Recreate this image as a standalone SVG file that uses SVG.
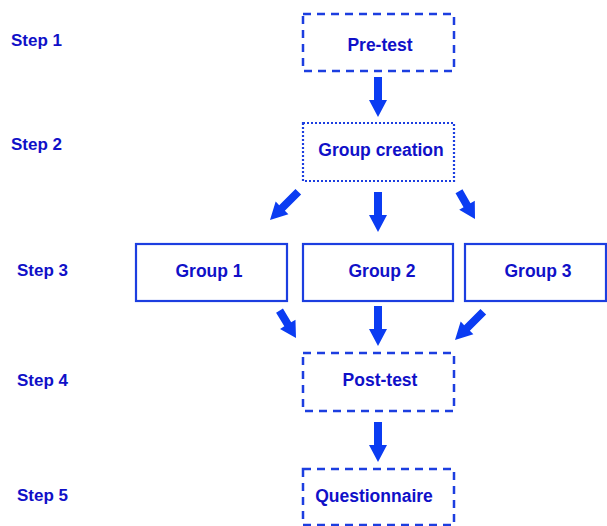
<svg xmlns="http://www.w3.org/2000/svg" xmlns:xlink="http://www.w3.org/1999/xlink" width="607" height="526" viewBox="0 0 607 526">
  <style>
    text { font-family: "Liberation Sans", Arial, sans-serif; font-weight: bold; fill: #1010c8; }
    .step { font-size: 17px; }
    .label { font-size: 17.5px; text-anchor: middle; }
    .box { fill: none; stroke: #1c3ee0; stroke-width: 2.2; }
    .dashed { stroke-dasharray: 8 6; stroke-width: 2.5; }
    .dotted { stroke-dasharray: 2 2; stroke-width: 2.2; }
    .arrow { fill: #0b3cf2; }
  </style>
  <defs>
    <!-- block arrows pointing down, tip at origin -->
    <path id="arr40" d="M -4 -40 L 4 -40 L 4 -17 L 9 -17 L 0 0 L -9 -17 L -4 -17 Z"/>
    <path id="arr32" d="M -4 -32 L 4 -32 L 4 -16 L 9 -16 L 0 0 L -9 -16 L -4 -16 Z"/>
  </defs>
  <rect width="607" height="526" fill="#ffffff"/>

  <!-- step labels -->
  <g id="steps">
    <text class="step" x="11" y="46">Step 1</text>
    <text class="step" x="11" y="150">Step 2</text>
    <text class="step" x="17" y="276">Step 3</text>
    <text class="step" x="17" y="386">Step 4</text>
    <text class="step" x="17" y="501">Step 5</text>
  </g>

  <g id="pretest">
    <rect class="box dashed" x="303" y="14" width="151" height="57"/>
    <text class="label" x="380" y="51">Pre-test</text>
  </g>
  <g id="group-creation">
    <rect class="box dotted" x="303" y="123" width="151" height="58"/>
    <text class="label" x="381" y="156">Group creation</text>
  </g>
  <g id="group1">
    <rect class="box" x="136" y="244" width="151" height="57"/>
    <text class="label" x="209" y="277">Group 1</text>
  </g>
  <g id="group2">
    <rect class="box" x="303" y="244" width="150" height="57"/>
    <text class="label" x="382" y="277">Group 2</text>
  </g>
  <g id="group3">
    <rect class="box" x="465" y="244" width="141" height="57"/>
    <text class="label" x="538" y="277">Group 3</text>
  </g>
  <g id="posttest">
    <rect class="box dashed" x="303" y="353" width="151" height="58"/>
    <text class="label" x="380" y="386">Post-test</text>
  </g>
  <g id="questionnaire">
    <rect class="box dashed" x="303" y="469" width="151" height="56"/>
    <text class="label" x="374" y="502">Questionnaire</text>
  </g>

  <!-- connectors -->
  <g id="connectors" class="arrow">
    <use xlink:href="#arr40" transform="translate(378,117)"/>
    <use xlink:href="#arr40" transform="translate(378,232)"/>
    <use xlink:href="#arr40" transform="translate(270,220) rotate(45)"/>
    <use xlink:href="#arr32" transform="translate(475,219) rotate(-30)"/>
    <use xlink:href="#arr32" transform="translate(296,338) rotate(-31)"/>
    <use xlink:href="#arr40" transform="translate(378,346)"/>
    <use xlink:href="#arr40" transform="translate(455,340) rotate(45)"/>
    <use xlink:href="#arr40" transform="translate(378,462)"/>
  </g>
</svg>
